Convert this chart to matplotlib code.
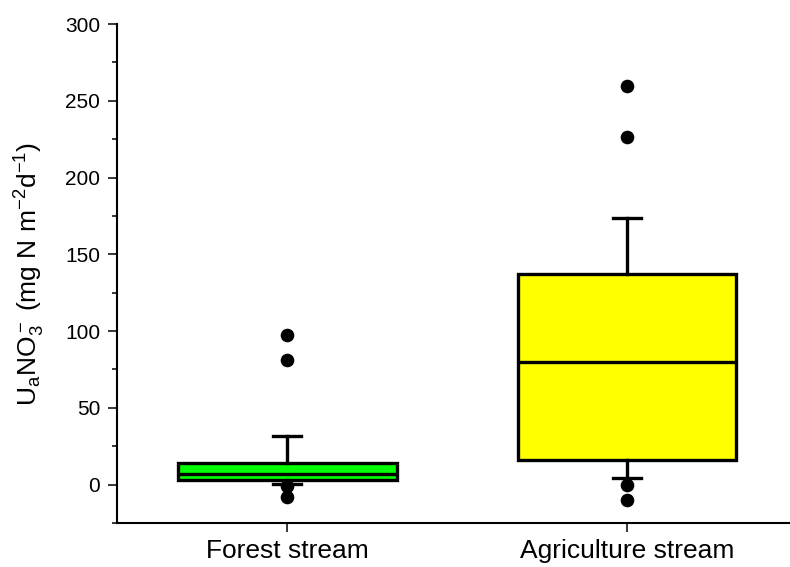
import matplotlib
matplotlib.use("Agg")
import matplotlib.pyplot as plt

plt.rcParams['font.family'] = ['Liberation Sans', 'DejaVu Sans']
plt.rcParams['mathtext.fontset'] = 'custom'
plt.rcParams['mathtext.rm'] = 'Liberation Sans'
plt.rcParams['mathtext.it'] = 'Liberation Sans'
plt.rcParams['mathtext.default'] = 'regular'

categories = ["Forest stream", "Agriculture stream"]
q1 = [3.2, 16.2]
median = [7.0, 80.0]
q3 = [14.0, 137.4]
whisker_low = [0.5, 4.3]
whisker_high = [31.4, 173.6]
outliers = [[97.6, 81.0, -1.0, -8.0], [259.3, 226.6, 0.0, -9.7]]
colors = ["#00FF00", "#FFFF00"]

stats = []
for i, name in enumerate(categories):
    stats.append(dict(label=name, q1=q1[i], med=median[i], q3=q3[i],
                      whislo=whisker_low[i], whishi=whisker_high[i],
                      fliers=outliers[i]))

fig = plt.figure(figsize=(7.9, 5.67), dpi=100)
ax = fig.add_axes([117.5/790, 1-523/567, (790-117.5)/790, (523-24)/567])

lw = 2.4
bp = ax.bxp(stats, positions=[1, 2], widths=0.643, capwidths=0.0825,
            patch_artist=True, showfliers=True,
            boxprops=dict(linewidth=lw, edgecolor='black'),
            medianprops=dict(color='black', linewidth=lw),
            whiskerprops=dict(color='black', linewidth=lw),
            capprops=dict(color='black', linewidth=lw),
            flierprops=dict(marker='o', markerfacecolor='black',
                            markeredgecolor='black', markersize=8.8,
                            linestyle='none'))
for patch, c in zip(bp['boxes'], colors):
    patch.set_facecolor(c)
for f in bp['fliers']:
    f.set_zorder(5)

ax.set_xlim(0.5, 2.48)
ax.set_ylim(-25, 300)
ax.set_yticks([0, 50, 100, 150, 200, 250, 300])
ax.set_yticks([-25, 25, 75, 125, 175, 225, 275], minor=True)
ax.set_xticks([1, 2])
ax.set_xticklabels(categories, fontsize=19)

for s in ['top', 'right']:
    ax.spines[s].set_visible(False)
for s in ['left', 'bottom']:
    ax.spines[s].set_linewidth(1.5)

ax.tick_params(axis='y', which='major', direction='out', length=6.5, width=1.1,
               labelsize=15, pad=6)
ax.tick_params(axis='y', which='minor', direction='out', length=3.8, width=1.1)
ax.tick_params(axis='x', which='major', direction='out', length=6.5, width=1.1,
               pad=5)

ax.set_ylabel('U$_a$NO$_3^-$ (mg N m$^{-2}$d$^{-1}$)', fontsize=19)
ax.yaxis.set_label_coords(-0.105, 0.5)

fig.savefig("out.png", dpi=100)
